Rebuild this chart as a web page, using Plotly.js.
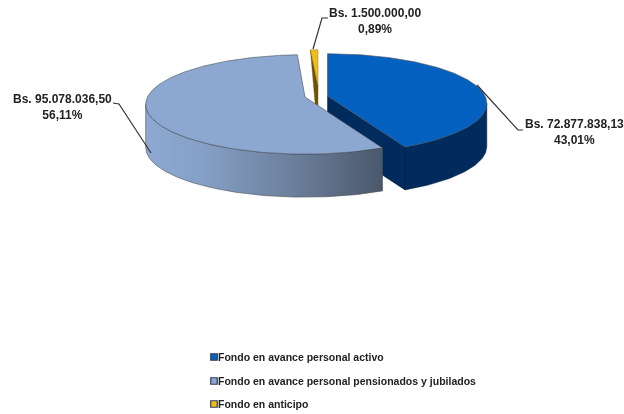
<!DOCTYPE html>
<html>
<head>
<meta charset="utf-8">
<script src="https://cdn.plot.ly/plotly-3.0.1.min.js"></script>
<style>
html,body{margin:0;padding:0;background:#fff}
#chart{width:624px;height:414px;filter:blur(0.35px)}
</style>
</head>
<body>
<div id="chart"></div>
<script>
const categories = ["Fondo en avance personal activo","Fondo en avance personal pensionados y jubilados","Fondo en anticipo"];
const amounts = [72877838.13, 95078036.50, 1500000.00];
const amountLabels = ["Bs. 72.877.838,13","Bs. 95.078.036,50","Bs. 1.500.000,00"];
const percentLabels = ["43,01%","56,11%","0,89%"];

const topColors = ["#0561C0","#8CA8D0","#F2BC1B"];
const edge = "#4a4f57";

// projection of the tilted pie, in pixels of the 624x414 axes
const R = 157.5, RT = 48.6, P = 0.15, DEPTH = 43;
const apex = [[327.5,96],[305,97],[318,92]];
const total = amounts.reduce((a,b)=>a+b,0);
const spans = []; let acc = 0;
amounts.forEach(v=>{const s=acc; acc+=v/total*2*Math.PI; spans.push([s,acc]);});

function rim(c,t){
  const u=Math.sin(t), v=Math.cos(t), s=1/(1+P*v);
  return [c[0]+R*s*u, c[1]-RT*s*v];
}
function arc(c,a,b){
  const n=Math.max(4,Math.ceil(Math.abs(b-a)*60)), pts=[];
  for(let i=0;i<=n;i++) pts.push(rim(c,a+(b-a)*i/n));
  return pts;
}
const down = (p,d)=>[p[0],p[1]+d];
function poly(pts,fill,extra){
  const xs=pts.map(p=>p[0]), ys=pts.map(p=>p[1]);
  xs.push(xs[0]); ys.push(ys[0]);
  return Object.assign({type:"scatter",mode:"lines",x:xs,y:ys,fill:"toself",fillcolor:fill,
    line:{color:edge,width:0.6},showlegend:false,hoverinfo:"skip"},extra||{});
}
function topFace(i){ return poly([apex[i]].concat(arc(apex[i],spans[i][0],spans[i][1])),topColors[i]); }
function outerSide(i,a,b,fill,extra){
  const top=arc(apex[i],a,b), bot=top.slice().reverse().map(p=>down(p,DEPTH));
  return poly(top.concat(bot),fill,extra);
}

const rightT = Math.acos(-P), leftT = 2*Math.PI-rightT;
const blueEnd = rim(apex[0],spans[0][1]);
const goldStart = rim(apex[2],spans[2][0]);
const goldTip = down(apex[2],-6);

const traces = [
  // gold slice
  poly([goldStart,goldTip,down(apex[2],16),[apex[2][0]-2.5,apex[2][1]+16]],"#6E5208",{line:{color:"#6E5208",width:0.4}}),
  poly([goldTip].concat(arc(apex[2],spans[2][0],spans[2][1])),topColors[2],{line:{color:"#7a6420",width:0.4}}),
  // blue slice
  poly([apex[0],blueEnd,down(blueEnd,DEPTH),down(apex[0],DEPTH)],"#002B5C",{line:{color:"#001f44",width:0.5}}),
  outerSide(0,rightT,spans[0][1],"#002B5C",{line:{color:"#001f44",width:0.5}}),
  topFace(0),
  // pale slice
  outerSide(1,spans[1][0],leftT,"#8CA8D0",{fillgradient:{type:"horizontal",
    colorscale:[[0,"#8DA9D1"],[0.22,"#86A1C8"],[0.6,"#6E819E"],[1,"#4A586B"]]}}),
  topFace(1),
  // leader lines
  {type:"scatter",mode:"lines",x:[523,518,477],y:[130,130,85],line:{color:"#333333",width:1.2},showlegend:false,hoverinfo:"skip"},
  {type:"scatter",mode:"lines",x:[113,119,151],y:[103,104,153],line:{color:"#333333",width:1.2},showlegend:false,hoverinfo:"skip"},
  {type:"scatter",mode:"lines",x:[328,322,313],y:[18,18,49],line:{color:"#333333",width:1.2},showlegend:false,hoverinfo:"skip"}
];

// legend keys
const legendY = [357,381,404];
categories.forEach((c,i)=>{
  traces.push({type:"scatter",mode:"markers",x:[214],y:[legendY[i]],name:c,
    marker:{symbol:"square",size:6.5,color:topColors[i],line:{color:"#2f3d55",width:1.2}},
    showlegend:false,hoverinfo:"skip"});
});

const labelPos = [[574,125],[62,100],[375,14]];
const annotations = amounts.map((v,i)=>({
  x:labelPos[i][0],y:labelPos[i][1]+7,xref:"x",yref:"y",showarrow:false,align:"center",
  text:"<b>"+amountLabels[i]+"<br>"+percentLabels[i]+"</b>",
  font:{family:"Liberation Sans",size:12,color:"#222222"},xanchor:"center",yanchor:"middle"
}));
categories.forEach((c,i)=>annotations.push({
  x:218,y:legendY[i],xref:"x",yref:"y",showarrow:false,xanchor:"left",yanchor:"middle",xshift:-2,
  text:"<b>"+c+"</b>",font:{family:"Liberation Sans",size:10.5,color:"#222222"}
}));

const layout = {
  width:624,height:414,margin:{l:0,r:0,t:0,b:0},paper_bgcolor:"#fff",plot_bgcolor:"#fff",
  xaxis:{range:[0,624],visible:false,fixedrange:true},
  yaxis:{range:[414,0],visible:false,fixedrange:true},
  showlegend:false,annotations:annotations
};
Plotly.newPlot("chart",traces,layout,{displayModeBar:false,staticPlot:true});
</script>
</body>
</html>
